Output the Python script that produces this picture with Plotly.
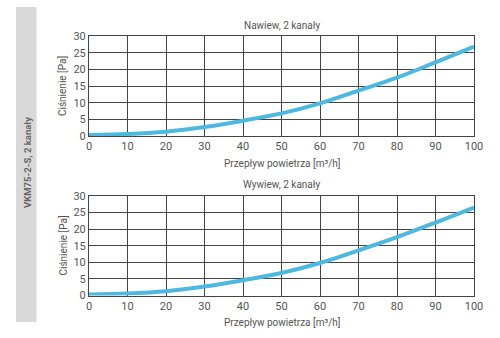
import plotly.graph_objects as go

x_flow = [0, 10, 20, 30, 40, 50, 60, 70, 80, 90, 100]
p_supply = [0.3, 0.6, 1.3, 2.7, 4.6, 6.8, 9.8, 13.6, 17.5, 22.1, 26.8]
p_exhaust = [0.3, 0.6, 1.3, 2.7, 4.6, 6.8, 9.8, 13.6, 17.6, 22.0, 26.5]
titles = ["Nawiew, 2 kanały", "Wywiew, 2 kanały"]
x_title = "Przepływ powietrza [m³/h]"
y_title = "Ciśnienie [Pa]"
side_label = "VKM75-2-S, 2 kanały"

W, H = 500, 338
def py(p):
    return 1 - p / H

FONT = "Roboto"
TXT = "#555555"
LINE = "#4db8e0"

fig = go.Figure()
fig.add_trace(go.Scatter(x=x_flow, y=p_supply, mode="lines", line=dict(color=LINE, width=4, shape="spline"),
                         xaxis="x", yaxis="y", showlegend=False))
fig.add_trace(go.Scatter(x=x_flow, y=p_exhaust, mode="lines", line=dict(color=LINE, width=4, shape="spline"),
                         xaxis="x2", yaxis="y2", showlegend=False))

xd = [89 / W, 474 / W]
axis_common = dict(showgrid=True, gridcolor="#444444", gridwidth=1, showline=True, linecolor="#444444",
                   linewidth=1, mirror=True, zeroline=False, ticks="", automargin=False,
                   tickfont=dict(family=FONT, size=11, color=TXT))
xa = dict(axis_common, range=[0, 100], tickvals=x_flow, fixedrange=True)
ya = dict(axis_common, range=[0, 30], tickvals=[0, 5, 10, 15, 20, 25, 30], fixedrange=True)

fig.update_layout(
    width=W, height=H, margin=dict(l=0, r=0, t=0, b=0),
    paper_bgcolor="white", plot_bgcolor="white",
    xaxis=dict(xa, domain=xd, anchor="y"),
    yaxis=dict(ya, domain=[py(136), py(36)], anchor="x"),
    xaxis2=dict(xa, domain=xd, anchor="y2"),
    yaxis2=dict(ya, domain=[py(295.5), py(196)], anchor="x2"),
)

shapes = [dict(type="rect", xref="paper", yref="paper", x0=16 / W, x1=36.5 / W, y0=py(322), y1=py(7),
               fillcolor="#d9d9d9", line=dict(width=0), layer="below")]
fig.update_layout(shapes=shapes)

ann = []
cx = (89 + 474) / 2 / W
for t, yy in [(titles[0], 25), (titles[1], 184)]:
    ann.append(dict(text=t, x=cx, y=py(yy), xref="paper", yref="paper", showarrow=False,
                    font=dict(family=FONT, size=10, color=TXT), xanchor="center", yanchor="middle"))
for yy in [163, 322]:
    ann.append(dict(text=x_title, x=cx, y=py(yy), xref="paper", yref="paper", showarrow=False,
                    font=dict(family=FONT, size=10, color=TXT), xanchor="center", yanchor="middle"))
for yy in [86, 245.5]:
    ann.append(dict(text=y_title, x=63 / W, y=py(yy), xref="paper", yref="paper", showarrow=False, textangle=-90,
                    font=dict(family=FONT, size=10, color=TXT), xanchor="center", yanchor="middle"))
ann.append(dict(text="<b>" + side_label + "</b>", x=27 / W, y=py(163), xref="paper", yref="paper", showarrow=False,
                textangle=-90, font=dict(family=FONT, size=9.5, color="#666666"), xanchor="center", yanchor="middle"))
fig.update_layout(annotations=ann)

fig.write_html("out.html")
